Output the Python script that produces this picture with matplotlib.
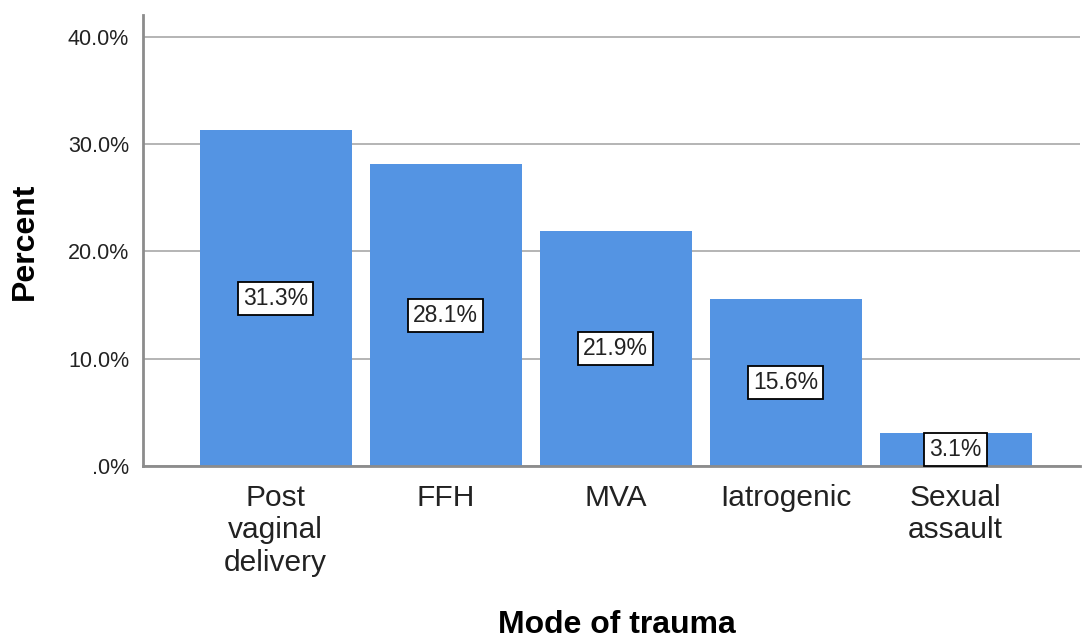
import numpy as np
import matplotlib
matplotlib.use("Agg")
import matplotlib.pyplot as plt

matplotlib.rcParams.update({
    "font.family": ["Liberation Sans", "DejaVu Sans"],
    "axes.spines.right": False,
    "axes.spines.top": False,
})

categories = ["Post\nvaginal\ndelivery", "FFH", "MVA", "Iatrogenic", "Sexual\nassault"]
percent = [31.3, 28.1, 21.9, 15.6, 3.1]
value_labels = ["31.3%", "28.1%", "21.9%", "15.6%", "3.1%"]
ytick_values = [0, 10, 20, 30, 40]
ytick_labels = [".0%", "10.0%", "20.0%", "30.0%", "40.0%"]

fig = plt.figure(figsize=(10.83, 6.41), dpi=100)
ax = fig.add_axes([0.132, 0.273, 0.865, 0.704])

x = np.arange(len(categories))
bars = ax.bar(x, percent, width=0.894, color="#5494E3", zorder=2)

# value labels sit in the middle of each bar
for xi, v, lab in zip(x, percent, value_labels):
    ax.text(xi, v / 2, lab, ha="center", va="center", fontsize=16.5,
            color="#222222", zorder=5, clip_on=False,
            bbox=dict(boxstyle="square,pad=0.22", fc="white", ec="black", lw=1.3))

ax.set_xlim(-0.78, 4.73)
ax.set_ylim(0, 42.05)
ax.set_yticks(ytick_values, ytick_labels)
ax.set_xticks(x, categories)
ax.yaxis.grid(True, color="#b4b4b4", linewidth=1.4, zorder=0)
ax.set_axisbelow(True)

ax.tick_params(axis="y", length=0, pad=10, labelsize=15.5, labelcolor="#222222")
ax.tick_params(axis="x", length=0, pad=13, labelsize=21.5, labelcolor="#222222")
for lab in ax.get_xticklabels():
    lab.set_linespacing(1.2)

for s in ("left", "bottom"):
    ax.spines[s].set_color("#8c8c8c")
    ax.spines[s].set_linewidth(2)
    ax.spines[s].set_zorder(3)

fig.text(25 / 1083, 1 - 241 / 641, "Percent", rotation=90, ha="center", va="center",
         fontsize=23, fontweight="bold")
fig.text(617 / 1083, 1 - 625 / 641, "Mode of trauma", ha="center", va="center",
         fontsize=23, fontweight="bold")

fig.savefig("out.png", dpi=100)
